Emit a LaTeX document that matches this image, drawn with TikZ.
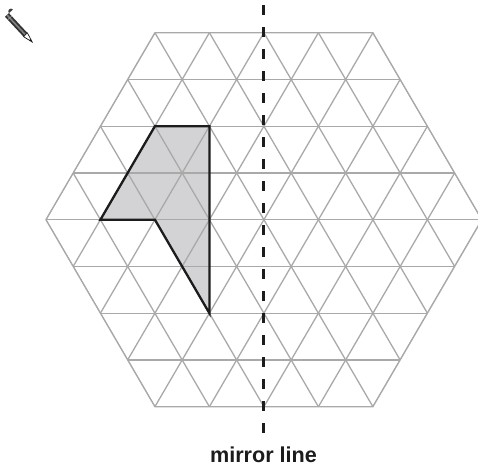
\documentclass[tikz,border=0pt]{standalone}
\usepackage{fontspec}
\setmainfont{Liberation Sans}
\usetikzlibrary{calc}
\definecolor{gridgray}{HTML}{A9A9A9}
\definecolor{shadegray}{HTML}{D3D3D5}
\definecolor{ink}{HTML}{1C1C1C}
\tikzset{
  gridline/.style={draw=gridgray, line width=1.3pt},
  shapeline/.style={draw=ink, line width=2.3pt, line join=miter},
  mirror/.style={draw=ink, line width=2.6pt, dash pattern=on 9.5pt off 12.5pt},
  labeltext/.style={font=\fontsize{21.6}{24}\selectfont\bfseries, text=ink, inner sep=0pt}
}
\begin{document}
\begin{tikzpicture}[x=1pt,y=-1pt]
\useasboundingbox (0,0) rectangle (478,469);
\def\cx{263.9}\def\cy{219.7}\def\hh{27.25}\def\rr{46.75}
% hexagon corners
\coordinate (H1) at ({\cx-4*\hh},{\cy-4*\rr});
\coordinate (H2) at ({\cx+4*\hh},{\cy-4*\rr});
\coordinate (H3) at ({\cx+8*\hh},{\cy});
\coordinate (H4) at ({\cx+4*\hh},{\cy+4*\rr});
\coordinate (H5) at ({\cx-4*\hh},{\cy+4*\rr});
\coordinate (H6) at ({\cx-8*\hh},{\cy});
% shaded shape corners
\coordinate (S1) at ({\cx-4*\hh},{\cy-2*\rr});
\coordinate (S2) at ({\cx-2*\hh},{\cy-2*\rr});
\coordinate (S3) at ({\cx-2*\hh},{\cy+2*\rr});
\coordinate (S4) at ({\cx-4*\hh},{\cy});
\coordinate (S5) at ({\cx-6*\hh},{\cy});
\fill[shadegray] (S1) -- (S2) -- (S3) -- (S4) -- (S5) -- cycle;
% grid
\begin{scope}
\clip (H1) -- (H2) -- (H3) -- (H4) -- (H5) -- (H6) -- cycle;
\foreach \j in {-4,...,4} {
  \draw[gridline] ({\cx-9*\hh},{\cy+\j*\rr}) -- ({\cx+9*\hh},{\cy+\j*\rr});
}
\foreach \k in {-8,...,8} {
  \draw[gridline] ({\cx+(2*\k-5)*\hh},{\cy-5*\rr}) -- ({\cx+(2*\k+5)*\hh},{\cy+5*\rr});
  \draw[gridline] ({\cx+(2*\k+5)*\hh},{\cy-5*\rr}) -- ({\cx+(2*\k-5)*\hh},{\cy+5*\rr});
}
\end{scope}
\draw[gridline, line join=round] (H1) -- (H2) -- (H3) -- (H4) -- (H5) -- (H6) -- cycle;
% shape outline
\draw[shapeline] (S1) -- (S2) -- (S3) -- (S4) -- (S5) -- cycle;
% mirror line
\coordinate (MT) at (263.4,5);
\coordinate (MB) at (263.4,434);
\draw[mirror] (MT) -- (MB);
\node[labeltext, anchor=base] (lbl) at (263.5,462) {mirror line};
% pencil icon
\begin{scope}[shift={(7,15)}, rotate=-47]
  \fill[ink!85] (0,-2.7) arc[start angle=90, end angle=270, radius=2.7] -- (0,2.7) -- cycle;
  \fill[ink!90] (0,-2.7) rectangle (27,2.7);
  \fill[white!45!ink] (0,-0.8) rectangle (27,0.8);
  \draw[white!60!ink, line width=0.6pt] (4,-2.7) -- (4,2.7);
  \draw[ink, line width=0.7pt, fill=white] (27,-2.7) -- (37,0) -- (27,2.7) -- cycle;
  \fill[ink] (33.5,-0.9) -- (37,0) -- (33.5,0.9) -- cycle;
\end{scope}
\end{tikzpicture}
\end{document}
